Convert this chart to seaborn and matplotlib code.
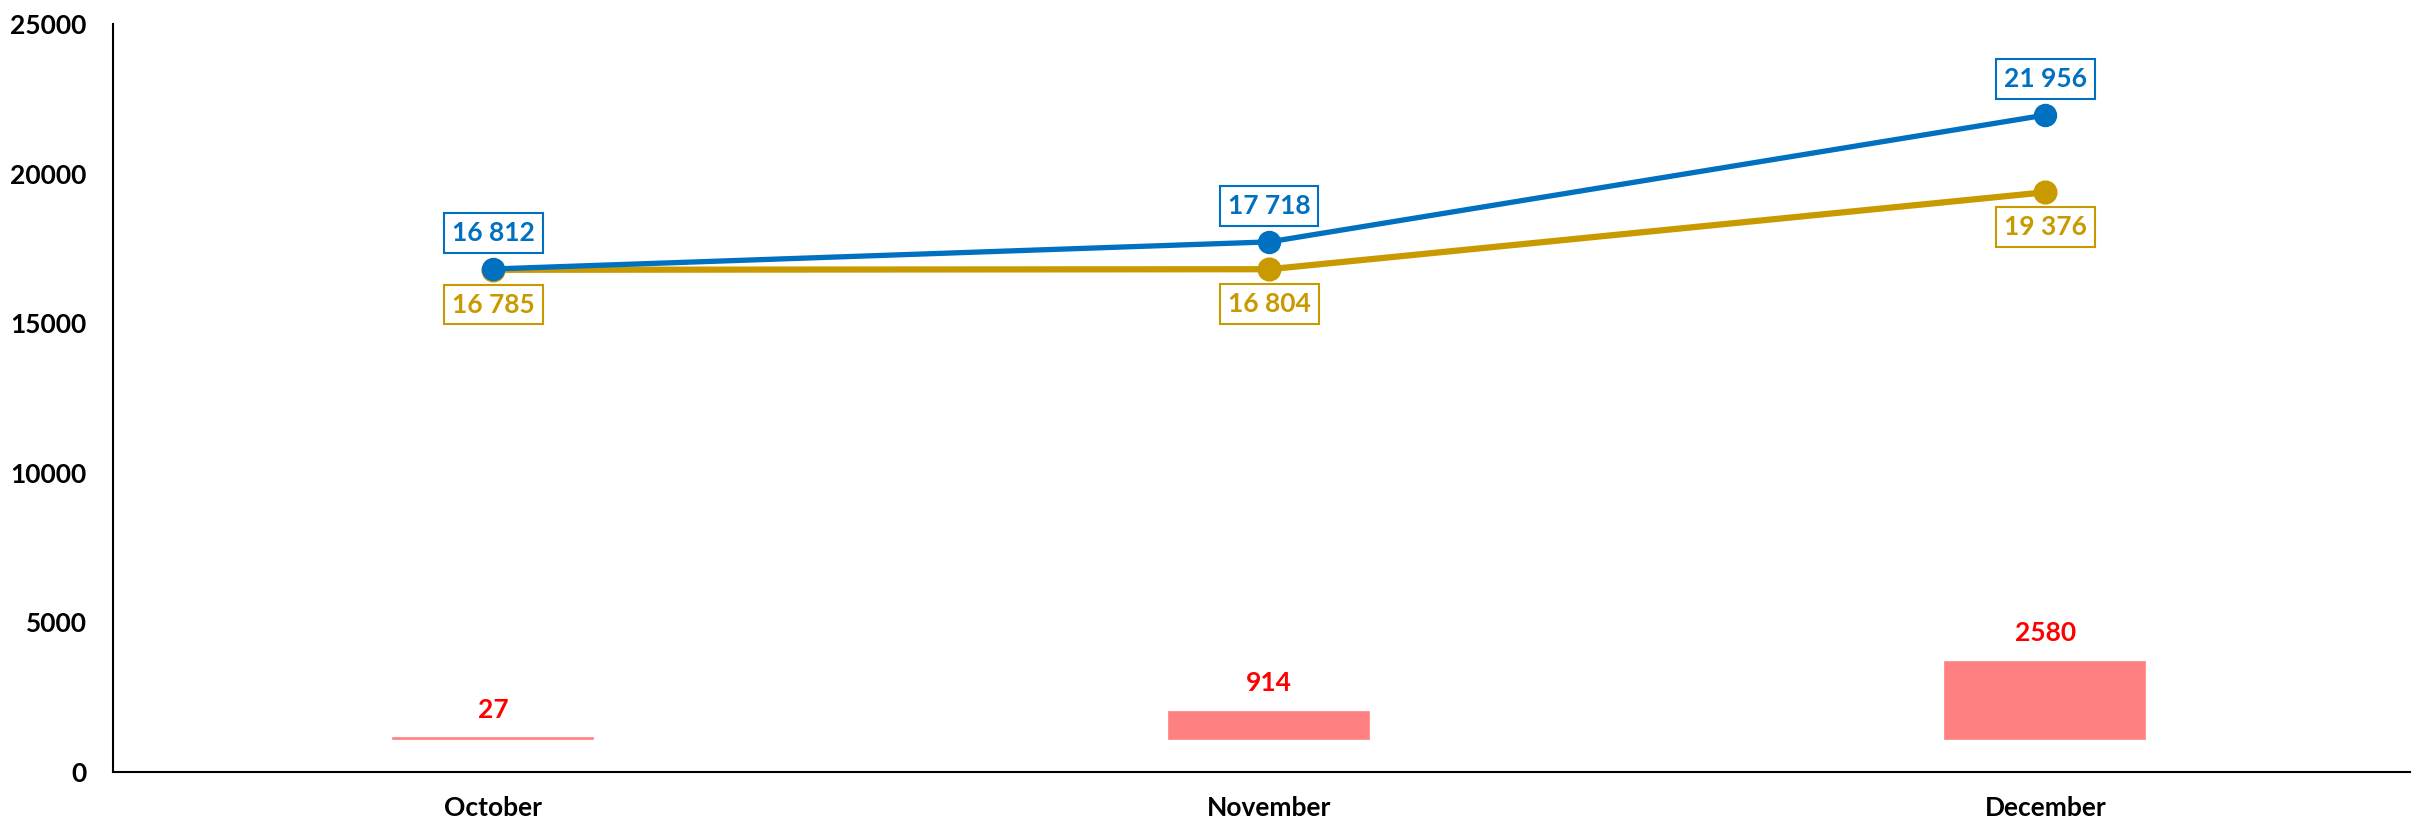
import pandas as pd
import seaborn as sns
import matplotlib.pyplot as plt

months = ["October", "November", "December"]
blue_vals = [16812, 17718, 21956]
gold_vals = [16785, 16804, 19376]
diff_vals = [27, 914, 2580]
y_ticks = [0, 5000, 10000, 15000, 20000, 25000]

BLUE = "#0070C0"
GOLD = "#C99A00"
BAR = "#FF8080"
RED = "#FF0000"
BAR_BASE = 1100  # bars float a little above the axis, as in the original

sns.set_style("white")
plt.rcParams["font.family"] = ["Lato", "DejaVu Sans"]
plt.rcParams["font.weight"] = "bold"

df = pd.DataFrame({"month": months, "blue": blue_vals, "gold": gold_vals, "diff": diff_vals})

fig = plt.figure(figsize=(24.15, 8.22), dpi=100)
ax = fig.add_axes([113 / 2415, 50 / 822, 2297 / 2415, 748 / 822])

sns.barplot(data=df, x="month", y="diff", color=BAR, saturation=1, width=0.258,
            bottom=BAR_BASE, ax=ax, zorder=1)
for p in ax.patches:
    p.set_edgecolor(BAR)
    p.set_linewidth(1.2)

sns.pointplot(data=df, x="month", y="gold", color=GOLD, markers="o", linewidth=4.5,
              markersize=14, ax=ax, zorder=3)
sns.pointplot(data=df, x="month", y="blue", color=BLUE, markers="o", linewidth=3.8,
              markersize=14, ax=ax, zorder=4)

for i, v in enumerate(blue_vals):
    ax.annotate(f"{v:,}".replace(",", " "), (i, v), xytext=(0, 26), textcoords="offset points",
                ha="center", va="center", color=BLUE, fontsize=19, fontweight="bold",
                bbox=dict(boxstyle="square,pad=0.3", fc="white", ec=BLUE, lw=1.5), zorder=5)
for i, v in enumerate(gold_vals):
    ax.annotate(f"{v:,}".replace(",", " "), (i, v), xytext=(0, -25), textcoords="offset points",
                ha="center", va="center", color=GOLD, fontsize=19, fontweight="bold",
                bbox=dict(boxstyle="square,pad=0.3", fc="white", ec=GOLD, lw=1.5), zorder=5)
for i, v in enumerate(diff_vals):
    ax.annotate(str(v), (i, BAR_BASE + v), xytext=(0, 12), textcoords="offset points",
                ha="center", va="bottom", color=RED, fontsize=19, fontweight="bold")

ax.set_xlim(-0.49, 2.47)
ax.set_ylim(0, 25000)
ax.set_yticks(y_ticks)
ax.set_xlabel("")
ax.set_ylabel("")
ax.tick_params(axis="both", length=0, labelsize=19, labelcolor="black")
ax.tick_params(axis="y", pad=19)
ax.tick_params(axis="x", pad=17)
for lab in ax.get_xticklabels() + ax.get_yticklabels():
    lab.set_fontweight("bold")
sns.despine(ax=ax)
for s in ["left", "bottom"]:
    ax.spines[s].set_color("black")
    ax.spines[s].set_linewidth(1.5)

fig.savefig("out.png", dpi=100)
